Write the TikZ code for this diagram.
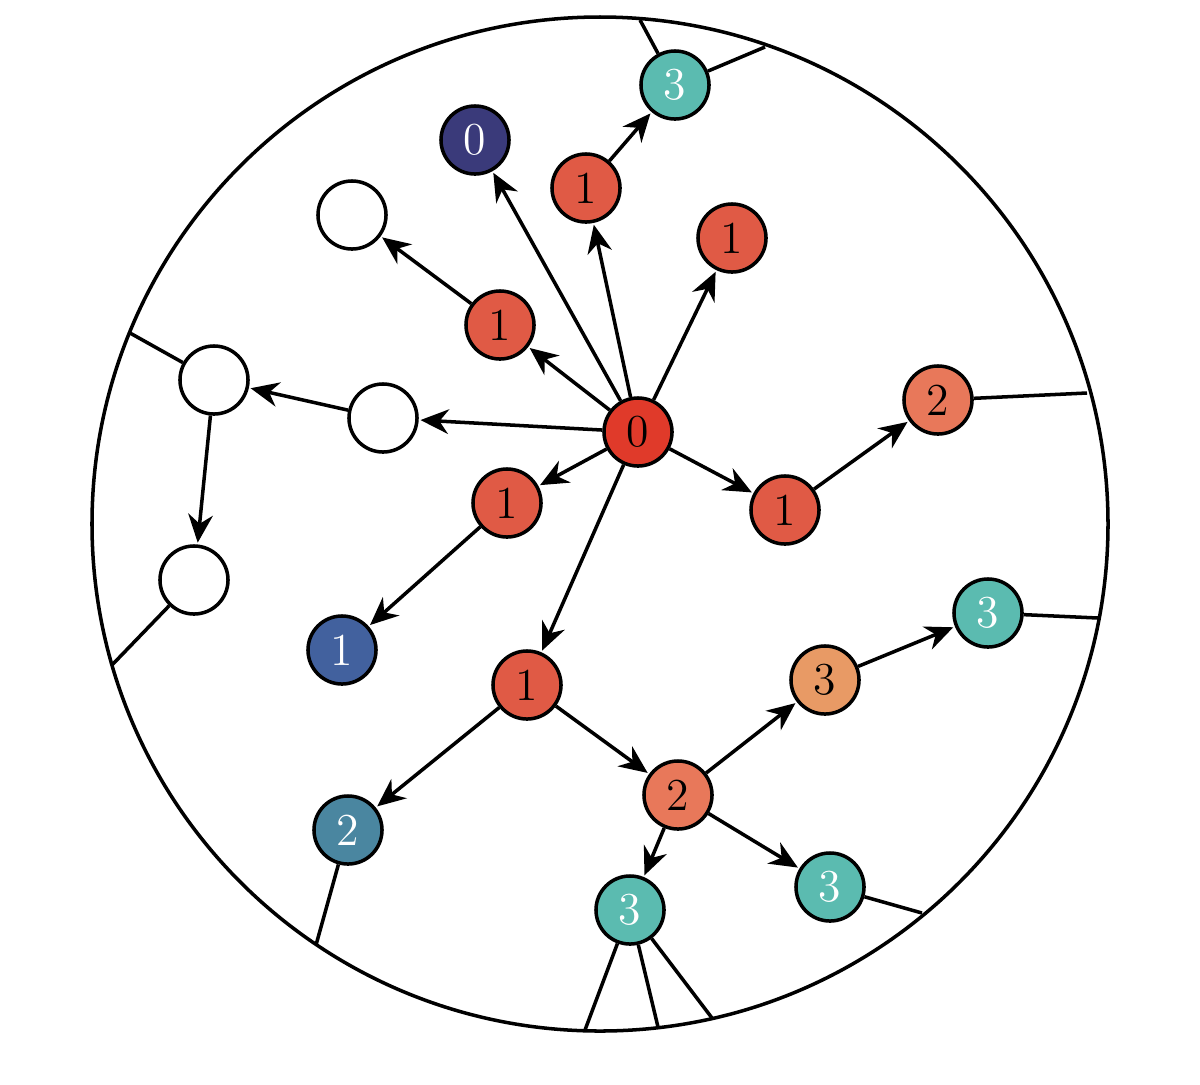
\documentclass[tikz,border=0pt]{standalone}
\usetikzlibrary{arrows.meta}
\definecolor{cRoot}{HTML}{E03A2A}
\definecolor{cOne}{HTML}{E05A45}
\definecolor{cTwo}{HTML}{E8785A}
\definecolor{cOr}{HTML}{E89A65}
\definecolor{cTeal}{HTML}{5BBBB0}
\definecolor{cDark}{HTML}{3A3A7A}
\definecolor{cBlue}{HTML}{42619E}
\definecolor{cTB}{HTML}{4A86A0}
\tikzset{
 nd/.style={circle,draw,line width=1pt,minimum size=0.68cm,inner sep=0pt,font=\fontsize{13}{13}\selectfont},
 wt/.style={nd,text=white},
 ar/.style={line width=1pt,-{Stealth[length=8pt,width=7pt]},shorten >=0.5pt},
 ln/.style={line width=1pt}
}
\begin{document}
\begin{tikzpicture}[x=0.01cm,y=-0.01cm]
\useasboundingbox (0,0) rectangle (1200,1084);
\draw[ln] (600,524) ellipse (508 and 507);
\node[nd,fill=cRoot] (r) at (638,432) {0};
\node[nd,fill=cOne] (a) at (586,188) {1};
\node[wt,fill=cTeal] (a3) at (675,85) {3};
\node[nd,fill=cOne] (b) at (732,238) {1};
\node[nd,fill=cOne] (c) at (500,325) {1};
\node[nd,fill=white] (cw) at (352,215) {};
\node[wt,fill=cDark] (d) at (475,140) {0};
\node[nd,fill=white] (e) at (383,418) {};
\node[nd,fill=white] (e2) at (214,380) {};
\node[nd,fill=white] (e3) at (194,580) {};
\node[nd,fill=cOne] (f) at (507,503) {1};
\node[wt,fill=cBlue] (f1) at (342,650) {1};
\node[nd,fill=cOne] (g) at (785,510) {1};
\node[nd,fill=cTwo] (g2) at (938,400) {2};
\node[nd,fill=cOne] (h) at (527,685) {1};
\node[wt,fill=cTB] (hb) at (348,830) {2};
\node[nd,fill=cTwo] (h2) at (678,795) {2};
\node[nd,fill=cOr] (o3) at (825,680) {3};
\node[wt,fill=cTeal] (t1) at (988,613) {3};
\node[wt,fill=cTeal] (t2) at (830,887) {3};
\node[wt,fill=cTeal] (t3) at (630,910) {3};
\foreach \n in {a,b,c,d,e,f,g,h} \draw[ar] (r) -- (\n);
\draw[ar] (a) -- (a3);
\draw[ar] (c) -- (cw);
\draw[ar] (e) -- (e2);
\draw[ar] (e2) -- (e3);
\draw[ar] (f) -- (f1);
\draw[ar] (g) -- (g2);
\draw[ar] (h) -- (hb);
\draw[ar] (h) -- (h2);
\draw[ar] (h2) -- (o3);
\draw[ar] (o3) -- (t1);
\draw[ar] (h2) -- (t2);
\draw[ar] (h2) -- (t3);
\coordinate (p1) at (640,20); \coordinate (p2) at (765,47);
\coordinate (p3) at (1087,393); \coordinate (p4) at (1098,618);
\coordinate (p5) at (922,913); \coordinate (p6) at (585,1030);
\coordinate (p7) at (658,1027); \coordinate (p8) at (712,1018);
\coordinate (p9) at (316,945); \coordinate (p10) at (130,333);
\coordinate (p11) at (112,665);
\draw[ln] (a3) -- (p1); \draw[ln] (a3) -- (p2);
\draw[ln] (g2) -- (p3); \draw[ln] (t1) -- (p4);
\draw[ln] (t2) -- (p5);
\draw[ln] (t3) -- (p6); \draw[ln] (t3) -- (p7); \draw[ln] (t3) -- (p8);
\draw[ln] (hb) -- (p9); \draw[ln] (e2) -- (p10); \draw[ln] (e3) -- (p11);
\end{tikzpicture}
\end{document}
